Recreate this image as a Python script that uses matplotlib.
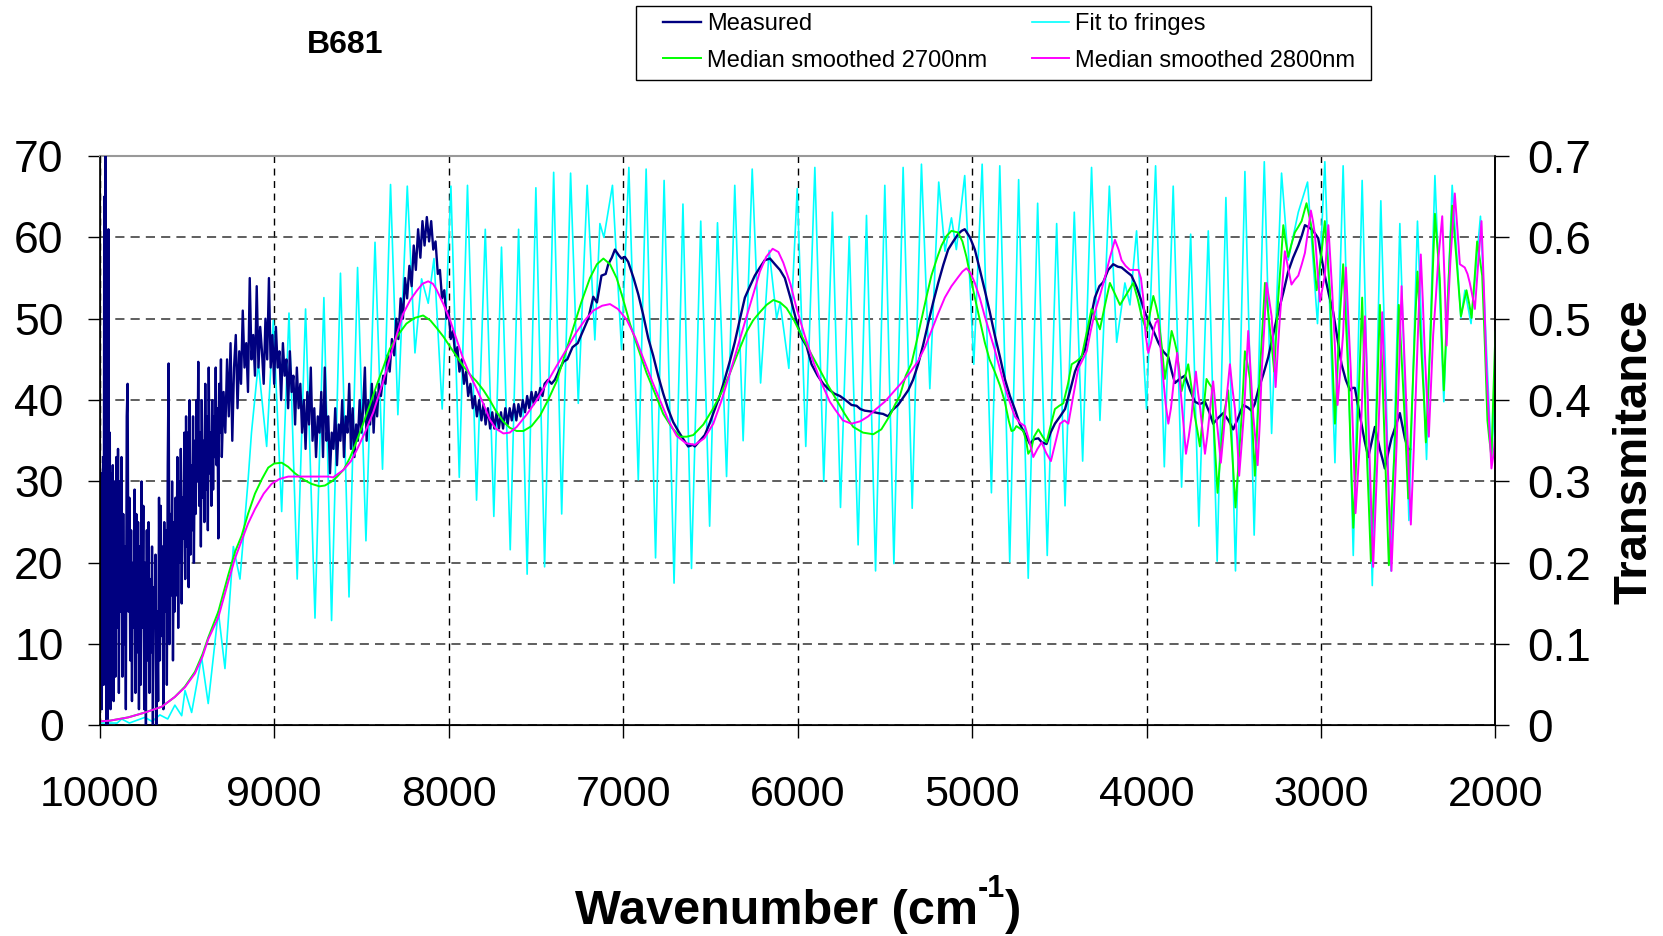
import numpy as np
import matplotlib
matplotlib.use("Agg")
import matplotlib.pyplot as plt
from matplotlib.lines import Line2D
from matplotlib.patches import Rectangle

plt.rcParams['font.family'] = ['Liberation Sans', 'DejaVu Sans']

# (wavenumber cm-1, transmittance %) pairs per series
measured_noisy = [
    (10000, 2), (9996, 18), (9992, 31), (9988, 2), (9984, 28), (9980, 33), (9977, 5), (9974, 65), (9970, 10), (9966, 70),
    (9962, 0), (9958, 48), (9955, 0), (9950, 61), (9946, 15), (9942, 36), (9938, 2), (9934, 31), (9930, 8), (9925, 32),
    (9920, 3), (9915, 30), (9910, 6), (9905, 33), (9900, 12), (9895, 34), (9890, 4), (9885, 30), (9880, 14), (9875, 33),
    (9870, 6), (9865, 26), (9860, 10), (9855, 22), (9850, 2), (9845, 38), (9840, 42), (9835, 14), (9830, 28), (9825, 8),
    (9820, 24), (9815, 3), (9810, 20), (9805, 12), (9800, 29), (9795, 4), (9790, 26), (9785, 9), (9780, 25), (9775, 2),
    (9770, 22), (9765, 5), (9760, 30), (9755, 12), (9750, 27), (9745, 2), (9740, 20), (9735, 0), (9730, 24), (9725, 8),
    (9720, 25), (9715, 4), (9710, 18), (9705, 9), (9700, 22), (9695, 0), (9690, 17), (9685, 12), (9680, 21), (9675, 0),
    (9670, 14), (9665, 3), (9660, 28), (9655, 8), (9650, 27), (9645, 11), (9640, 22), (9635, 2), (9630, 25), (9625, 14),
    (9620, 24), (9615, 5), (9610, 32), (9605, 44.5), (9600, 10), (9595, 26), (9590, 16), (9585, 30), (9580, 8), (9575, 25),
    (9570, 14), (9565, 28), (9560, 16), (9555, 33), (9550, 12), (9545, 30), (9540, 20), (9535, 34), (9530, 15), (9525, 28),
    (9520, 23), (9515, 36), (9510, 18), (9505, 38), (9500, 22), (9495, 36), (9490, 17), (9485, 40), (9480, 21), (9475, 32),
    (9470, 24), (9465, 38), (9460, 20), (9455, 35), (9450, 26), (9445, 40), (9440, 30), (9435, 44.7), (9430, 27), (9425, 36),
    (9420, 22), (9415, 40), (9410, 28), (9405, 35), (9400, 25), (9395, 42), (9390, 29), (9385, 38), (9380, 24), (9375, 44),
    (9370, 31), (9365, 36), (9360, 27), (9355, 40), (9350, 29), (9345, 38), (9340, 33), (9335, 44), (9330, 32), (9325, 39),
    (9320, 23), (9315, 42), (9310, 36), (9305, 45),
    (9300, 33), (9290, 41), (9280, 36), (9270, 45), (9260, 38), (9250, 47), (9240, 35), (9230, 44), (9220, 48), (9210, 39),
    (9200, 46), (9190, 42), (9180, 51), (9170, 44), (9160, 47), (9150, 41), (9140, 55), (9130, 45), (9120, 48), (9110, 43),
    (9100, 54), (9090, 44), (9080, 49), (9070, 46), (9060, 42), (9050, 50), (9040, 45), (9030, 55), (9020, 44), (9010, 48),
    (9000, 42), (8990, 49), (8980, 44), (8970, 46), (8960, 40), (8950, 47), (8940, 43), (8930, 45), (8920, 39), (8910, 46),
    (8900, 41), (8890, 43), (8880, 37), (8870, 44), (8860, 39), (8850, 42), (8840, 36), (8830, 40), (8820, 34), (8810, 41),
    (8800, 37), (8790, 44), (8780, 35), (8770, 39), (8760, 33), (8750, 38), (8740, 36), (8730, 41), (8720, 33), (8710, 44),
    (8700, 35), (8690, 38), (8680, 31), (8670, 36), (8660, 34), (8650, 39), (8640, 32), (8630, 37), (8620, 35), (8610, 40),
    (8600, 33), (8590, 38), (8580, 36), (8570, 42), (8560, 34), (8550, 39), (8540, 33), (8530, 37), (8520, 35), (8510, 40),
    (8500, 36), (8490, 39), (8480, 44), (8470, 35), (8460, 40), (8450, 37), (8440, 42), (8430, 36), (8420, 41), (8410, 38),
]

measured_smooth = [
    (8400, 42), (8388, 40.5), (8375, 43), (8362, 42), (8350, 45.5), (8338, 43.5), (8325, 47.5), (8312, 45.5),
    (8300, 50), (8288, 47.5), (8275, 52.5), (8262, 50), (8250, 55), (8238, 52.5), (8225, 56.5), (8212, 54),
    (8200, 59), (8188, 56), (8175, 61), (8162, 57.5), (8150, 62), (8138, 59), (8125, 62.5), (8112, 59.5),
    (8100, 62), (8088, 58.5), (8075, 59.5), (8062, 55.5), (8050, 56), (8038, 52.5), (8025, 53.5), (8012, 50),
    (8000, 51), (7988, 47.5), (7975, 48.5), (7962, 45.5), (7950, 46.5), (7938, 43.5), (7925, 45), (7912, 42),
    (7900, 43.5), (7888, 40.5), (7875, 42), (7862, 39), (7850, 40.5), (7838, 38), (7825, 40), (7812, 37.5),
    (7800, 39.5), (7788, 37), (7775, 39), (7762, 36.5), (7750, 38.5), (7738, 36.5), (7725, 38.5), (7712, 36.5),
    (7700, 38.5), (7688, 36.5), (7675, 39), (7662, 37), (7650, 39), (7638, 37.5), (7625, 39.5), (7612, 37.5),
    (7600, 39.5), (7588, 38), (7575, 40), (7562, 38.5), (7550, 40.5), (7538, 39), (7525, 41), (7512, 39.5),
    (7500, 41), (7488, 40), (7475, 41.5), (7462, 40.5), (7450, 42), (7430, 42.5), (7410, 42), (7391, 42.5),
    (7370, 43.5), (7343, 44.7), (7320, 45), (7290, 46.5), (7260, 47), (7230, 48.5), (7200, 50), (7171, 52.7),
    (7150, 52), (7124, 55.3), (7100, 55.5), (7085, 56.7), (7065, 57.5), (7047, 58.5), (7025, 57.8), (7009, 57.4),
    (6990, 57.6), (6971, 57), (6940, 55), (6913, 53), (6885, 50.5), (6856, 47.6), (6828, 45.5), (6799, 43),
    (6770, 40.8), (6742, 38.9), (6713, 37.3), (6684, 36.2), (6655, 35.2), (6627, 34.3), (6600, 34.5), (6589, 34.3),
    (6560, 35), (6532, 35.7), (6503, 37.2), (6474, 38.9), (6445, 40.6), (6417, 42.6), (6388, 44.8), (6360, 47.1),
    (6330, 50), (6302, 52.6), (6273, 54), (6245, 55.3), (6216, 56.3), (6188, 57.2), (6158, 57.4), (6130, 56.7),
    (6101, 56), (6073, 55), (6040, 52.5), (6010, 50), (5980, 47.8), (5948, 46.6), (5920, 44.4), (5885, 43),
    (5853, 42), (5820, 41.3), (5790, 40.8), (5757, 40.5), (5725, 40), (5691, 39.4), (5662, 39.3), (5640, 38.9),
    (5615, 38.7), (5580, 38.6), (5538, 38.4), (5510, 38.3), (5481, 38), (5455, 38.8), (5424, 39.4), (5395, 40.3),
    (5366, 41.2), (5338, 42.5), (5309, 44.4), (5280, 46.8), (5252, 49.4), (5223, 52), (5194, 54.4), (5165, 56.6),
    (5137, 58.5), (5108, 59.5), (5080, 60.4), (5060, 60.8), (5042, 61), (5012, 60), (4984, 58.5), (4955, 56),
    (4927, 53.5), (4898, 50.8), (4870, 48), (4840, 45.3), (4812, 42.6), (4783, 40.5), (4755, 38.9), (4727, 37.1),
    (4706, 36.2), (4690, 35.5), (4668, 34.6), (4645, 35.2), (4620, 35.3), (4600, 34.8), (4573, 34.6), (4550, 36),
    (4525, 37.1), (4495, 38), (4467, 38.9), (4440, 41), (4410, 43.5), (4380, 45), (4353, 46.2), (4325, 49.5),
    (4296, 52.6), (4270, 54), (4248, 54.5), (4220, 56), (4191, 56.7), (4165, 56.4), (4143, 56.3), (4115, 55.8),
    (4086, 55.3), (4055, 53.8), (4028, 52.1), (4010, 50.8), (3990, 49.9), (3960, 48.5), (3933, 47.1), (3905, 46),
    (3875, 45.3), (3855, 43.5), (3837, 42.1), (3810, 42.6), (3780, 43), (3750, 41.2), (3723, 39.8), (3695, 39.5),
    (3665, 39.8), (3640, 38.5), (3618, 37.1), (3590, 37.8), (3560, 38.4), (3530, 37.5), (3503, 36.4), (3475, 37.8),
    (3446, 39.4), (3420, 39.1), (3398, 38.7), (3380, 39.5), (3360, 41.2), (3330, 43.2), (3302, 45.3), (3275, 48),
    (3245, 50.8), (3215, 53.3), (3188, 55.8), (3160, 57.5), (3130, 59), (3110, 60.2), (3092, 61.5), (3075, 61.3),
    (3054, 61), (3035, 60.5), (3016, 59.9), (2997, 57.5), (2978, 55.3), (2955, 53), (2930, 50.8), (2905, 47.5),
    (2882, 44.4), (2858, 42.5), (2834, 41.2), (2820, 41.5), (2806, 41.5), (2787, 39.3), (2768, 37.1), (2750, 35),
    (2729, 33), (2710, 34.8), (2691, 36.7), (2676, 35.3), (2662, 33.9), (2648, 32.8), (2634, 31.6), (2615, 33.5),
    (2596, 35.3), (2572, 36.8), (2548, 38.4), (2535, 37), (2519, 35.3), (2500, 33.9), (2490, 34),
]

fringe_fit = [
    (10000, 0.3), (9900, 0.3), (9874, 0.8), (9830, 0.3), (9741, 1.0), (9700, 0.5),
    (9655, 1.3), (9610, 0.8), (9569, 2.5), (9530, 1.2), (9511, 4.3), (9473, 1.6),
    (9416, 8.4), (9378, 2.7), (9320, 14), (9282, 7), (9234, 22), (9196, 18), (9150, 30),
    (9130, 36), (9091, 44.5), (9043, 34.3), (9005, 49.8), (8957, 26.3), (8915, 50.7),
    (8868, 18), (8820, 51.2), (8766, 13.2), (8715, 52.6), (8671, 12.9), (8620, 55.6),
    (8571, 15.8), (8522, 56.3), (8474, 22.7), (8422, 59.4), (8379, 31.5), (8333, 66.5),
    (8291, 38.2), (8237, 66.3), (8193, 45.8), (8155, 54.9), (8117, 51.9), (8084, 57.4),
    (8037, 38.9), (7987, 66.3), (7939, 30.5), (7892, 66.4), (7840, 27.7), (7790, 61),
    (7741, 25.7), (7697, 58.8), (7647, 21.6), (7599, 61), (7550, 18.6), (7500, 66.1),
    (7450, 19.5), (7398, 68), (7352, 26), (7301, 67.9), (7257, 39.6), (7206, 66.4),
    (7162, 47.4), (7133, 61.7), (7110, 60), (7061, 66.4), (7009, 46.2), (6967, 68.6),
    (6913, 30.2), (6868, 68.4), (6814, 20.6), (6765, 67), (6708, 17.5), (6657, 64.1),
    (6608, 19.3), (6555, 62), (6504, 24.5), (6459, 61.8), (6407, 30.6), (6360, 66.4),
    (6312, 35), (6260, 68.4), (6212, 42.1), (6163, 58.4), (6120, 50), (6100, 52),
    (6050, 43.9), (6002, 66), (5953, 34.3), (5901, 68.6), (5850, 30), (5800, 63.1),
    (5754, 26.8), (5704, 60.1), (5653, 22.2), (5605, 62.7), (5553, 19), (5500, 66.4),
    (5448, 19.9), (5395, 68.6), (5343, 26.7), (5290, 69), (5242, 41.4), (5191, 66.8),
    (5155, 58.3), (5118, 62.4), (5090, 58.5), (5042, 67.6), (4990, 44.4), (4942, 69),
    (4889, 28.6), (4841, 68.8), (4784, 20.1), (4733, 67.1), (4678, 18.1), (4624, 64.2),
    (4569, 20.9), (4515, 61.7), (4467, 27), (4414, 63.1), (4366, 32.5), (4315, 68.6),
    (4267, 37.5), (4213, 66.3), (4171, 47.1), (4124, 54.4), (4095, 51.7), (4057, 60.8),
    (4000, 38.9), (3948, 68.8), (3898, 31.8), (3847, 66.3), (3799, 29.3), (3747, 60.4),
    (3700, 24.5), (3646, 60.8), (3595, 20.2), (3545, 64.9), (3490, 19), (3436, 68.1),
    (3383, 23.4), (3325, 69.3), (3283, 35.9), (3226, 67.9), (3188, 57.2), (3130, 63.1),
    (3077, 66.8), (3020, 49.4), (2978, 69.3), (2920, 32.3), (2873, 68.8), (2815, 20.9),
    (2764, 67), (2706, 17.2), (2657, 64.5), (2599, 19), (2548, 61.7), (2496, 25.2),
    (2447, 62), (2395, 32.7), (2347, 67.6), (2296, 39.8), (2248, 66.4), (2198, 50.1),
    (2175, 53.5), (2140, 49.4), (2086, 62.6), (2023, 32.7), (2000, 42),
]

median_2700 = [
    (10000, 0.5), (9940, 0.6), (9836, 1.0), (9740, 1.6), (9645, 2.3), (9570, 3.5),
    (9511, 4.8), (9454, 6.6), (9410, 8.8), (9378, 10.8), (9320, 14), (9263, 18.5),
    (9225, 21.3), (9187, 23.3), (9150, 26), (9110, 28.5), (9070, 30.3), (9034, 31.7),
    (9000, 32.2), (8957, 32.3), (8920, 31.8), (8881, 31), (8830, 30.2), (8786, 29.7),
    (8740, 29.4), (8709, 29.5), (8670, 30), (8643, 30.5), (8600, 31.5), (8566, 32.9),
    (8530, 34.8), (8490, 37.1), (8450, 39.5), (8413, 41.8), (8375, 44), (8337, 46.3),
    (8290, 48), (8242, 49.4), (8195, 50.1), (8146, 50.4), (8105, 49.8), (8070, 48.9),
    (8030, 47.8), (7993, 46.6), (7955, 45.4), (7917, 44.2), (7880, 43.2), (7840, 42.3),
    (7800, 41.2), (7764, 40), (7730, 38.7), (7688, 37.4), (7650, 36.6), (7610, 36.2),
    (7572, 36.2), (7525, 36.8), (7476, 38.1), (7430, 40), (7381, 42.3), (7335, 45.5),
    (7285, 48.9), (7240, 52), (7190, 55), (7150, 56.7), (7113, 57.4), (7075, 56.7),
    (7037, 55), (7000, 52.4), (6961, 49.4), (6913, 46.3), (6865, 43.3), (6815, 40.7),
    (6770, 38.3), (6720, 36.6), (6674, 35.5), (6635, 35.5), (6598, 35.7), (6540, 37),
    (6483, 39), (6435, 41), (6388, 43.3), (6340, 45.9), (6292, 48.4), (6255, 49.8),
    (6216, 50.8), (6178, 51.7), (6139, 52.3), (6100, 52), (6063, 51.3), (6020, 49.8),
    (5967, 47.5), (5920, 45.6), (5872, 43.7), (5825, 41.8), (5776, 40), (5730, 38.3),
    (5681, 36.7), (5625, 36), (5566, 35.8), (5520, 36.4), (5471, 38.1), (5440, 39.5),
    (5414, 40.5), (5380, 43), (5347, 44.5), (5320, 47), (5290, 49.9), (5260, 52.8),
    (5233, 55.3), (5200, 57.5), (5175, 59), (5145, 60.2), (5118, 60.8), (5080, 60.6),
    (5055, 59.5), (5032, 57.6), (5008, 55), (4984, 52.6), (4955, 49.8), (4927, 47.1),
    (4900, 45), (4870, 43.5), (4840, 41.8), (4812, 39.8), (4790, 37.5), (4774, 36.2),
    (4760, 36.3), (4746, 36.8), (4725, 36.5), (4706, 36.2), (4690, 35), (4678, 33.4),
    (4660, 34), (4645, 35.5), (4620, 36.4), (4595, 35.5), (4573, 34.8), (4550, 36.8),
    (4525, 38.9), (4500, 39.3), (4477, 39.6), (4450, 42), (4429, 44.4), (4400, 44.8),
    (4372, 45.3), (4343, 48.3), (4315, 51.2), (4290, 50), (4267, 48.7), (4240, 51.5),
    (4210, 54.4), (4180, 53), (4152, 51.7), (4115, 53), (4076, 54.4), (4050, 52.4),
    (4028, 50.3), (4000, 48.5), (3980, 50.7), (3961, 52.8), (3945, 51.5), (3933, 50.3),
    (3912, 46.5), (3895, 42.6), (3875, 45.5), (3856, 48.5), (3840, 47.3), (3828, 46.2),
    (3812, 43.7), (3799, 41.1), (3780, 42.8), (3761, 44.4), (3740, 41.2), (3723, 38),
    (3708, 36.2), (3694, 34.3), (3675, 38.5), (3656, 42.6), (3640, 42), (3627, 41.6),
    (3610, 35), (3593, 28.6), (3576, 33.3), (3560, 38), (3545, 39.6), (3532, 41.2),
    (3510, 34), (3490, 26.8), (3472, 32.4), (3455, 38), (3445, 42), (3436, 46),
    (3420, 44.3), (3407, 42.6), (3393, 36.6), (3379, 30.7), (3365, 37), (3350, 43.5),
    (3335, 49), (3321, 54.4), (3307, 51.6), (3293, 48.9), (3280, 46.2), (3268, 43.5),
    (3257, 48), (3245, 52.6), (3230, 57), (3216, 61.5), (3202, 59.5), (3188, 57.6),
    (3170, 59.1), (3150, 60.6), (3130, 61.3), (3111, 62), (3097, 63.1), (3083, 64.2),
    (3068, 62.7), (3054, 61.2), (3040, 57.3), (3025, 53.5), (3010, 55.8), (2997, 58.1),
    (2988, 60), (2978, 62), (2963, 57.7), (2949, 53.5), (2935, 45.3), (2920, 37.1),
    (2906, 43.7), (2892, 50.3), (2882, 53.5), (2873, 56.7), (2858, 50.1), (2844, 43.5),
    (2830, 33.9), (2815, 24.3), (2800, 31.6), (2787, 38.9), (2775, 45.8), (2764, 52.6),
    (2752, 43.5), (2739, 34.3), (2726, 27.2), (2714, 20.2), (2700, 27.2), (2687, 34.3),
    (2675, 43), (2662, 51.7), (2648, 43), (2634, 34.3), (2622, 27), (2611, 19.7),
    (2595, 27), (2577, 34.3), (2566, 43), (2554, 51.7), (2538, 45.3), (2523, 38.9),
    (2511, 33.4), (2500, 27.9), (2485, 35.7), (2471, 43.5), (2460, 49.6), (2447, 55.8),
    (2435, 50.8), (2424, 45.8), (2410, 40.3), (2399, 34.8), (2385, 41.4), (2372, 48),
    (2360, 55.4), (2347, 62.9), (2333, 58.9), (2319, 54.9), (2308, 48), (2296, 41.2),
    (2284, 47.4), (2271, 53.5), (2260, 58.7), (2248, 63.9), (2235, 60.5), (2223, 57.2),
    (2210, 53.7), (2198, 50.3), (2182, 51.9), (2166, 53.5), (2150, 51.8), (2137, 50.1),
    (2120, 54.8), (2105, 59.5), (2090, 57.4), (2076, 55.3), (2060, 46.4), (2046, 37.5),
    (2035, 35.2), (2023, 33), (2012, 40.7), (2000, 48.4),
]

median_2800 = [
    (10000, 0.5), (9940, 0.6), (9836, 1.0), (9740, 1.6), (9645, 2.3), (9570, 3.5),
    (9511, 4.7), (9454, 6.4), (9410, 8.5), (9378, 10.6), (9320, 13.3), (9263, 17.7),
    (9225, 20.5), (9187, 22.7), (9150, 24.8), (9110, 26.6), (9060, 28.5), (9015, 29.7),
    (8970, 30.3), (8919, 30.6), (8843, 30.6), (8760, 30.6), (8690, 30.6), (8662, 30.5),
    (8604, 31.4), (8560, 32.5), (8528, 33.8), (8480, 36), (8432, 38.5), (8375, 42.3),
    (8318, 46.6), (8261, 50.6), (8220, 52.3), (8184, 53.4), (8150, 54.3), (8117, 54.6),
    (8090, 54.3), (8070, 53.6), (8030, 51.8), (7993, 49.9), (7955, 47.5), (7917, 45.1),
    (7880, 43.2), (7840, 41.4), (7800, 39.5), (7764, 37.6), (7730, 36.5), (7686, 35.9),
    (7650, 36), (7610, 36.7), (7550, 38.3), (7495, 40), (7440, 42), (7381, 44.2),
    (7320, 46.4), (7266, 48.4), (7220, 49.8), (7171, 51), (7120, 51.6), (7075, 51.8),
    (7030, 51.2), (6980, 49.9), (6930, 47.7), (6884, 45.1), (6835, 42.4), (6789, 40),
    (6740, 37.5), (6693, 35.6), (6640, 34.7), (6588, 34.5), (6535, 35.3), (6483, 37.1),
    (6435, 40), (6388, 43.3), (6340, 46.8), (6292, 50.3), (6250, 53.3), (6216, 55.8),
    (6180, 57.6), (6143, 58.6), (6110, 58.2), (6082, 56.9), (6040, 54.2), (6006, 51.3),
    (5960, 48), (5910, 44.7), (5863, 42.1), (5815, 39.8), (5787, 38.9), (5740, 37.5),
    (5691, 37.1), (5640, 37.4), (5595, 38), (5550, 38.9), (5500, 39.8), (5450, 41),
    (5405, 42.1), (5355, 43.4), (5309, 44.8), (5270, 46.5), (5233, 48.5), (5195, 50.6),
    (5156, 52.6), (5118, 54), (5080, 55.1), (5055, 55.8), (5032, 56.2), (5008, 55.6),
    (4984, 54.4), (4955, 52.5), (4927, 50.3), (4898, 48.2), (4870, 46.2), (4840, 43.8),
    (4812, 41.6), (4783, 39.7), (4755, 38), (4725, 37.2), (4697, 36.8), (4672, 35),
    (4649, 33), (4625, 34), (4601, 34.8), (4575, 33.5), (4548, 32.5), (4520, 35),
    (4496, 37.1), (4470, 37.5), (4448, 37.1), (4420, 40.5), (4391, 43.9), (4365, 45),
    (4343, 46), (4320, 48.5), (4296, 50.8), (4265, 53), (4238, 55.1), (4210, 57.5),
    (4181, 59.7), (4160, 58.5), (4143, 57.2), (4120, 56.5), (4095, 56), (4070, 56),
    (4047, 56), (4032, 55), (4019, 52.6), (4005, 48), (3990, 45.8), (3975, 47),
    (3961, 48.5), (3947, 49.5), (3933, 49.9), (3918, 46), (3904, 42.6), (3890, 39.5),
    (3875, 37.1), (3860, 39), (3847, 41.6), (3835, 44), (3824, 45.8), (3812, 43),
    (3799, 39.8), (3786, 36.5), (3774, 33.4), (3758, 35.5), (3742, 38), (3730, 41),
    (3717, 43.5), (3705, 41), (3692, 38.9), (3678, 36), (3665, 33.4), (3652, 35.5),
    (3640, 38), (3628, 40.5), (3618, 42.3), (3608, 40), (3598, 37.5), (3586, 35),
    (3574, 32.3), (3560, 35.5), (3547, 38.9), (3535, 41.5), (3522, 44.4), (3508, 41.5),
    (3493, 38.9), (3480, 35), (3469, 30.7), (3455, 34.5), (3440, 38.9), (3428, 44),
    (3417, 48.5), (3402, 43), (3388, 38), (3375, 35), (3363, 32), (3350, 37.5),
    (3340, 43.5), (3325, 49), (3312, 54.4), (3298, 52.5), (3283, 50.3), (3270, 46),
    (3260, 41.6), (3248, 46), (3235, 50.3), (3220, 54.5), (3207, 58.3), (3188, 56.2),
    (3169, 54.2), (3150, 54.8), (3130, 55.3), (3110, 56.7), (3092, 58.1), (3075, 60.7),
    (3058, 63.3), (3046, 62), (3035, 60.4), (3020, 56), (3006, 52.1), (2992, 53.7),
    (2978, 55.3), (2968, 58.5), (2958, 61.5), (2947, 57.5), (2936, 53.5), (2920, 46.5),
    (2905, 39.4), (2890, 43.5), (2873, 48.2), (2865, 52.5), (2857, 56.3), (2843, 50),
    (2829, 43.5), (2815, 35), (2802, 26.1), (2785, 32), (2768, 38), (2758, 44),
    (2748, 50.3), (2736, 43), (2725, 35.3), (2713, 27.5), (2701, 19.5), (2686, 27.5),
    (2672, 35.3), (2660, 43), (2649, 50.8), (2636, 43), (2624, 35.7), (2610, 27.5),
    (2596, 19), (2582, 26.5), (2567, 34.3), (2552, 44), (2538, 54), (2524, 46.5),
    (2510, 38.9), (2498, 31.8), (2485, 24.7), (2468, 34), (2452, 43.5), (2440, 50.5),
    (2428, 57.9), (2416, 52), (2405, 45.8), (2393, 40.5), (2382, 35.5), (2370, 41.5),
    (2357, 48), (2342, 52.5), (2328, 57.2), (2316, 60), (2305, 62.6), (2292, 55),
    (2280, 46.7), (2270, 52), (2258, 57.2), (2245, 61.5), (2233, 65.4), (2218, 61),
    (2204, 56.7), (2190, 56.5), (2176, 56.3), (2160, 55.5), (2147, 54.4), (2132, 52.8),
    (2118, 51.2), (2100, 56.5), (2080, 62), (2065, 53), (2051, 43.5), (2037, 37.5),
    (2023, 31.6), (2010, 33.5), (2000, 36.2),
]

x_ticks = [10000, 9000, 8000, 7000, 6000, 5000, 4000, 3000, 2000]
left_ticks = [0, 10, 20, 30, 40, 50, 60, 70]
right_ticks = [0, 0.1, 0.2, 0.3, 0.4, 0.5, 0.6, 0.7]
right_labels = ['0', '0.1', '0.2', '0.3', '0.4', '0.5', '0.6', '0.7']

series = [
    (measured_noisy + measured_smooth, 'Measured', '#000080', 1.7, 3),
    (fringe_fit, 'Fit to fringes', '#00FFFF', 1.2, 2),
    (median_2700, 'Median smoothed 2700nm', '#00FF00', 1.4, 4),
    (median_2800, 'Median smoothed 2800nm', '#FF00FF', 1.4, 5),
]

W, H = 1663, 936
fig = plt.figure(figsize=(W / 100, H / 100), dpi=100)
ax = fig.add_axes([0.05995, 0.2249, 0.8393, 0.6084])

for pts, label, color, lw, z in series:
    arr = np.array(pts, dtype=float)
    ax.plot(arr[:, 0], arr[:, 1], color=color, lw=lw, zorder=z, label=label)

ax.set_xlim(10000, 2000)
ax.set_ylim(0, 70)
ax.set_xticks(x_ticks)
ax.set_xticklabels([str(t) for t in x_ticks])
ax.set_yticks(left_ticks)
ax.set_yticklabels([str(t) for t in left_ticks])

ax.grid(True, axis='x', color='black', linestyle=(0, (5, 4)), linewidth=1.0)
ax.grid(True, axis='y', color='#333333', linestyle=(0, (6, 4)), linewidth=1.1)
ax.set_axisbelow(True)

ax.tick_params(axis='x', direction='out', length=9.5, width=1, labelsize=31, pad=26)
ax.tick_params(axis='y', direction='out', length=9, width=1, labelsize=32, pad=17)

for side in ('left', 'bottom', 'right'):
    ax.spines[side].set_color('black')
    ax.spines[side].set_linewidth(1.2)
ax.spines['top'].set_color('#999999')
ax.spines['top'].set_linewidth(1.5)

ax2 = ax.twinx()
ax2.set_ylim(0, 0.7)
ax2.set_yticks(right_ticks)
ax2.set_yticklabels(right_labels)
ax2.tick_params(axis='y', direction='out', length=10, width=1, labelsize=33, pad=13)
ax2.spines['right'].set_linewidth(1.2)
ax2.spines['top'].set_visible(False)

# legend box drawn separately so the padding can be wider than the row gap
fig.patches.append(Rectangle((636 / W, 1 - 80 / H), 735 / W, 74 / H,
                             transform=fig.transFigure, facecolor='white',
                             edgecolor='black', linewidth=1.0, zorder=0))
handles = [Line2D([], [], color=c, lw=lw) for _, _, c, lw, _ in series]
labels = [s[1] for s in series]
order = [0, 2, 1, 3]
fig.legend([handles[i] for i in order], [labels[i] for i in order],
           ncol=2, loc='center left', bbox_to_anchor=(663 / W, 1 - 42.5 / H),
           fontsize=17, frameon=False,
           handlelength=1.6, handletextpad=0.25, columnspacing=1.9,
           labelspacing=0.6, borderpad=0, borderaxespad=0)

fig.text(0.2075, 0.952, 'B681', fontsize=23, fontweight='bold', ha='center', va='center')
fig.text(0.983, 0.517, 'Transmitance', fontsize=34, fontweight='bold',
         rotation=90, ha='center', va='center')

# x-axis title built from pieces so the exponent keeps a plain hyphen
renderer = fig.canvas.get_renderer()
parts = [('Wavenumber (cm', 35, 0), ('-1', 22, 27), (')', 35, 0)]
texts = []
widths = []
for s, size, rise in parts:
    t = fig.text(0, 0, s, fontsize=size, fontweight='bold', ha='left', va='baseline')
    texts.append((t, rise))
    widths.append(t.get_window_extent(renderer).width)
x_px = 0.480 * W - sum(widths) / 2
base_px = H - 924
for (t, rise), w in zip(texts, widths):
    t.set_position((x_px / W, (base_px + rise) / H))
    x_px += w

fig.savefig('out.png', dpi=100)
